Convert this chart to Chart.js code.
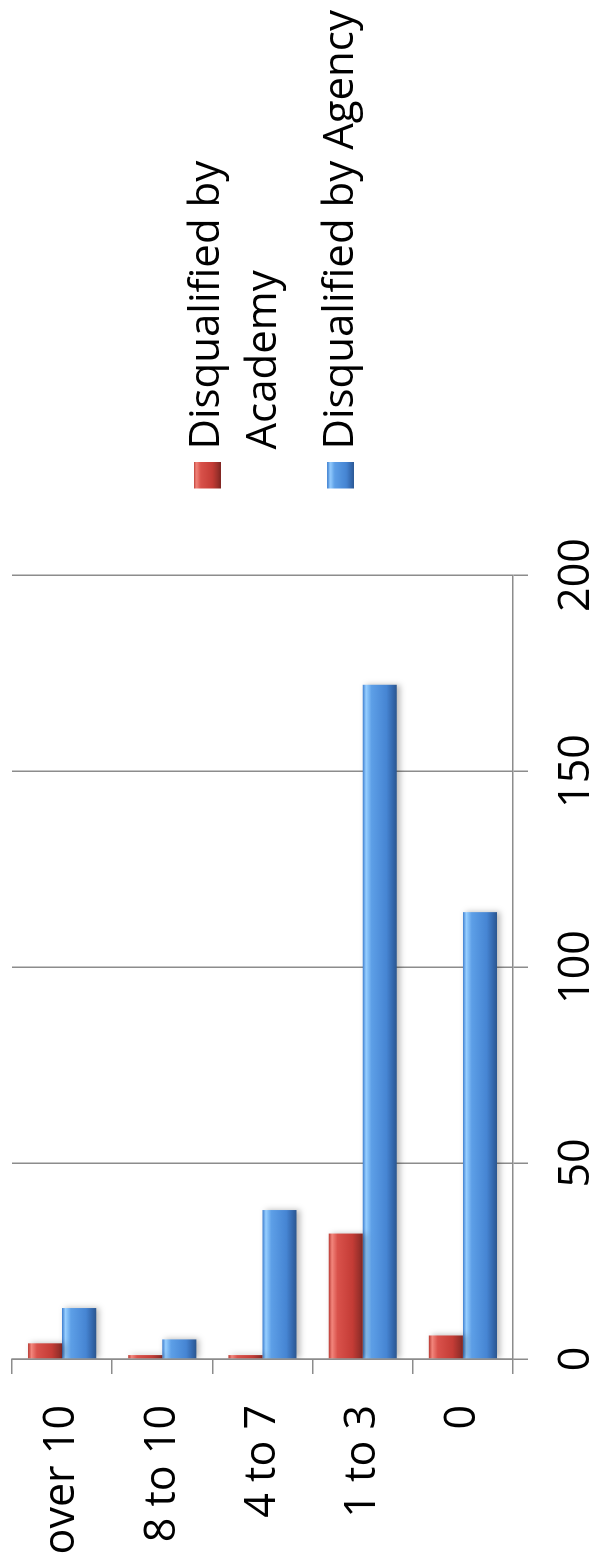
<!DOCTYPE html>
<html>
<head>
<meta charset="utf-8">
<script src="https://cdn.jsdelivr.net/npm/chart.js@4.4.1/dist/chart.umd.min.js"></script>
<style>
  html, body { margin: 0; padding: 0; background: #fff; overflow: hidden; }
  /* chart is drawn sideways and turned a quarter counter-clockwise */
  #turn { position: absolute; left: 0; top: 0; width: 1564px; height: 593px;
          transform-origin: 0 0; transform: translateY(1564px) rotate(-90deg); }
</style>
</head>
<body>
<div id="turn"><canvas id="barChart" width="1564" height="593"></canvas></div>
<script>
const categories = ["over 10", "8 to 10", "4 to 7", "1 to 3", "0"];
const academyValues = [4, 1, 1, 32, 6];
const agencyValues = [13, 5, 38, 172, 114];
const seriesNames = ["Disqualified by Academy", "Disqualified by Agency"];
const legendLines = [["Disqualified by", "Academy"], ["Disqualified by Agency"]];
const valueTicks = [0, 50, 100, 150, 200];

const redStops = [[0, "#b8362f"], [0.1, "#f2867c"], [0.26, "#d9524b"], [0.7, "#c43c36"], [0.9, "#9a302b"], [1, "#7e2622"]];
const blueStops = [[0, "#3f7fcf"], [0.1, "#96ceff"], [0.26, "#5d9fe7"], [0.7, "#4685d3"], [0.9, "#3265a9"], [1, "#2b568f"]];

const gridGrey = "#8c8c8c";
const groupShare = 0.68;
const markerBox = 27;
const markerGap = 18;
const gapWidth = 57.5;

Chart.defaults.font.family = "'Open Sans', 'Noto Sans', sans-serif";
Chart.defaults.color = "#000";

// gradient across the thickness of each bar, taken from the category scale
function barFill(stops) {
    return function (c) {
        const chart = c.chart;
        const y = chart.scales.y;
        if (c.type !== "data" || !y) {
            return stops[3][1];
        }
        const n = chart.data.datasets.length;
        const slot = (y.getPixelForValue(1) - y.getPixelForValue(0)) * groupShare / n;
        const top = y.getPixelForValue(c.dataIndex) + (c.datasetIndex - n / 2) * slot;
        const g = chart.ctx.createLinearGradient(0, top, 0, top + slot);
        stops.forEach(([o, col]) => g.addColorStop(o, col));
        return g;
    };
}

function markerImage(stops) {
    const c = document.createElement("canvas");
    c.width = markerBox + markerGap;
    c.height = markerBox;
    const g = c.getContext("2d");
    const grad = g.createLinearGradient(0, 0, 0, markerBox);
    stops.forEach(([o, col]) => grad.addColorStop(o, col));
    g.fillStyle = grad;
    g.fillRect(markerGap, 0, markerBox, markerBox);
    return c;
}
const markers = [markerImage(redStops), markerImage(blueStops)];

const barShadow = {
    id: "barShadow",
    beforeDatasetsDraw(chart) {
        const ctx = chart.ctx;
        ctx.save();
        ctx.shadowColor = "rgba(0,0,0,0.28)";
        ctx.shadowBlur = 6;
        ctx.shadowOffsetY = 3;
    },
    afterDatasetsDraw(chart) {
        chart.ctx.restore();
    },
};

const chart = new Chart(document.getElementById("barChart"), {
    type: "bar",
    plugins: [barShadow],
    data: {
        labels: categories,
        datasets: [
            {
                label: seriesNames[0],
                data: academyValues,
                backgroundColor: barFill(redStops),
                barPercentage: 1,
                categoryPercentage: groupShare,
            },
            {
                label: seriesNames[1],
                data: agencyValues,
                backgroundColor: barFill(blueStops),
                barPercentage: 1,
                categoryPercentage: groupShare,
            },
        ],
    },
    options: {
        indexAxis: "y",
        responsive: false,
        animation: false,
        devicePixelRatio: 1,
        layout: { padding: { top: 12, bottom: 0, left: 0, right: 0 } },
        scales: {
            x: {
                min: valueTicks[0],
                max: valueTicks[valueTicks.length - 1],
                ticks: {
                    stepSize: valueTicks[1] - valueTicks[0],
                    font: { size: 43, lineHeight: 1.2 },
                    padding: 23,
                    maxRotation: 0,
                },
                grid: { color: gridGrey, lineWidth: 1.5, tickLength: 15 },
                border: { color: gridGrey, width: 1.5 },
                afterFit: function (scale) {
                    scale.height = 80;
                },
            },
            y: {
                grid: { offset: true, drawOnChartArea: false, color: gridGrey, lineWidth: 1.5, tickLength: 15 },
                border: { color: gridGrey, width: 1.5 },
                ticks: { font: { size: 43 }, padding: 31 },
                afterFit: function (scale) {
                    scale.width = 205;
                    scale.paddingTop = 0;
                    scale.paddingBottom = 0;
                },
            },
            gap: {
                type: "linear",
                axis: "y",
                position: "right",
                grid: { display: false },
                border: { display: false },
                ticks: { display: false },
                afterFit: function (scale) {
                    scale.width = gapWidth;
                },
            },
        },
        plugins: {
            tooltip: { enabled: false },
            legend: {
                position: "right",
                fullSize: false,
                maxWidth: 700,
                title: { display: true, text: "", font: { size: 1, lineHeight: 1 }, padding: { top: 22, bottom: 0 } },
                labels: {
                    font: { size: 42, lineHeight: 1.357 },
                    padding: 20,
                    usePointStyle: true,
                    pointStyleWidth: markerBox,
                    boxHeight: markerBox,
                    generateLabels: function (chart) {
                        return chart.data.datasets.map(function (ds, i) {
                            return {
                                text: legendLines[i].length > 1 ? legendLines[i] : legendLines[i][0],
                                fillStyle: "transparent",
                                strokeStyle: "transparent",
                                lineWidth: 0,
                                pointStyle: markers[i],
                                datasetIndex: i,
                                hidden: false,
                            };
                        });
                    },
                },
            },
        },
    },
});
</script>
</body>
</html>
